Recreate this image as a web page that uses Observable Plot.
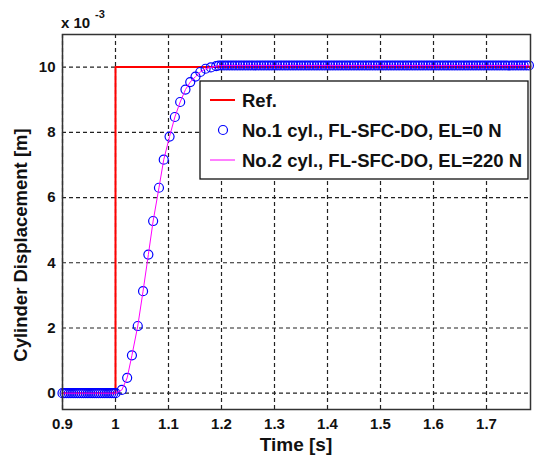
<!DOCTYPE html>
<html><head><meta charset="utf-8">
<script src="https://cdn.jsdelivr.net/npm/d3@7"></script>
<script src="https://cdn.jsdelivr.net/npm/@observablehq/plot@0.6"></script>
<style>html,body{margin:0;padding:0;background:#fff} svg{display:block}</style>
</head><body><div id="chart"></div>
<script>
// ---- data (displacement in units of 1e-3 m) ----
const xTicks = [0.9, 1.0, 1.1, 1.2, 1.3, 1.4, 1.5, 1.6, 1.7];
const xTickLabels = ["0.9", "1", "1.1", "1.2", "1.3", "1.4", "1.5", "1.6", "1.7"];
const yTicks = [0, 2, 4, 6, 8, 10];
const yTickLabels = ["0", "2", "4", "6", "8", "10"];

const refTime = [0.9, 1.0, 1.0, 1.783];
const refDisp = [0, 0, 10, 10];

const initialLevel = 0;
const steadyLevel = 10.05;
const riseTime = [1.0, 1.012, 1.022, 1.031, 1.042, 1.052, 1.062, 1.071, 1.082, 1.091, 1.102, 1.112, 1.122, 1.132, 1.141, 1.151, 1.160, 1.170, 1.180, 1.190];
const riseDisp = [0.0, 0.10, 0.47, 1.16, 2.06, 3.13, 4.25, 5.28, 6.30, 7.16, 7.87, 8.47, 8.93, 9.31, 9.54, 9.71, 9.85, 9.95, 9.99, 10.03];
// solver sample instants on the flat parts (dense markers)
const preTimes = d3.range(0.9, 0.999, 0.004);
const postTimes = d3.range(1.195, 1.784, 0.005);

const legendLabels = ["Ref.", "No.1 cyl., FL-SFC-DO, EL=0 N", "No.2 cyl., FL-SFC-DO, EL=220 N"];
const xLabel = "Time [s]";
const yLabel = "Cylinder Displacement [m]";
const exponentBase = "x 10";
const exponentPower = "-3";

// ---- tables ----
const ref = refTime.map((t, i) => ({t, d: refDisp[i]}));
const cyl = [
  ...preTimes.map(t => ({t, d: initialLevel})),
  ...riseTime.map((t, i) => ({t, d: riseDisp[i]})),
  ...postTimes.map(t => ({t, d: steadyLevel}))
];

const font = "'Liberation Sans', Arial, sans-serif";

function legendMark(index, scales, values, dims) {
  const right = dims.width - dims.marginRight;
  const x0 = right - 330, y0 = dims.marginTop + 47, w = 328, h = 98;
  const g = d3.create("svg:g").attr("font-family", font).attr("font-weight", "bold");
  g.append("rect").attr("x", x0).attr("y", y0).attr("width", w).attr("height", h)
    .attr("fill", "white").attr("stroke", "#111").attr("stroke-width", 1.3);
  const rows = [19, 49, 79];
  g.append("line").attr("x1", x0 + 10).attr("x2", x0 + 35).attr("y1", y0 + rows[0]).attr("y2", y0 + rows[0])
    .attr("stroke", "#ff0000").attr("stroke-width", 2);
  g.append("circle").attr("cx", x0 + 23).attr("cy", y0 + rows[1]).attr("r", 4.5)
    .attr("fill", "none").attr("stroke", "#0000ff").attr("stroke-width", 1.2);
  g.append("line").attr("x1", x0 + 10).attr("x2", x0 + 35).attr("y1", y0 + rows[2]).attr("y2", y0 + rows[2])
    .attr("stroke", "#ff00ff").attr("stroke-width", 1);
  legendLabels.forEach((s, i) => {
    g.append("text").attr("x", x0 + 42).attr("y", y0 + rows[i]).attr("dy", "0.36em")
      .attr("text-anchor", "start").attr("font-size", 18.5).attr("fill", "#111").text(s);
  });
  return g.node();
}

function annotationMark(index, scales, values, dims) {
  const g = d3.create("svg:g").attr("font-family", font).attr("font-weight", "bold").attr("fill", "#111");
  const left = dims.marginLeft, right = dims.width - dims.marginRight;
  g.append("text").attr("x", left - 1).attr("y", 28).attr("text-anchor", "start").attr("font-size", 15).text(exponentBase);
  g.append("text").attr("x", left + 33).attr("y", 18).attr("text-anchor", "start").attr("font-size", 11).text(exponentPower);
  g.append("text").attr("x", (left + right) / 2).attr("y", dims.height - 10)
    .attr("text-anchor", "middle").attr("font-size", 19).text(xLabel);
  g.append("text").attr("transform", `translate(27,245) rotate(-90)`)
    .attr("text-anchor", "middle").attr("font-size", 18.5).text(yLabel);
  return g.node();
}

const plot = Plot.plot({
  width: 540,
  height: 461,
  marginLeft: 62,
  marginRight: 10,
  marginTop: 34,
  marginBottom: 52,
  style: {fontFamily: font, fontWeight: "bold", fontSize: "15px", color: "#111", background: "white", overflow: "visible"},
  x: {domain: [0.9, 1.783]},
  y: {domain: [-0.5, 11]},
  marks: [
    Plot.gridX(xTicks, {stroke: "#222", strokeOpacity: 1, strokeWidth: 1.2, strokeDasharray: "4,3"}),
    Plot.gridY(yTicks, {stroke: "#222", strokeOpacity: 1, strokeWidth: 1.2, strokeDasharray: "4,3"}),
    Plot.axisX(xTicks, {tickSize: 0, tickPadding: 9, label: null, fontSize: 15,
      tickFormat: d => xTickLabels[xTicks.indexOf(d)]}),
    Plot.axisY(yTicks, {tickSize: 0, tickPadding: 7, label: null, fontSize: 15,
      tickFormat: d => yTickLabels[yTicks.indexOf(d)]}),
    Plot.line(ref, {x: "t", y: "d", stroke: "#ff0000", strokeWidth: 2}),
    Plot.dot(cyl, {x: "t", y: "d", r: 4.5, stroke: "#0000ff", strokeWidth: 1.2, fill: "none"}),
    Plot.line(cyl, {x: "t", y: "d", stroke: "#ff00ff", strokeWidth: 1}),
    Plot.frame({stroke: "#333", strokeWidth: 1.5}),
    legendMark,
    annotationMark
  ]
});
document.getElementById("chart").appendChild(plot);
</script>
</body></html>
